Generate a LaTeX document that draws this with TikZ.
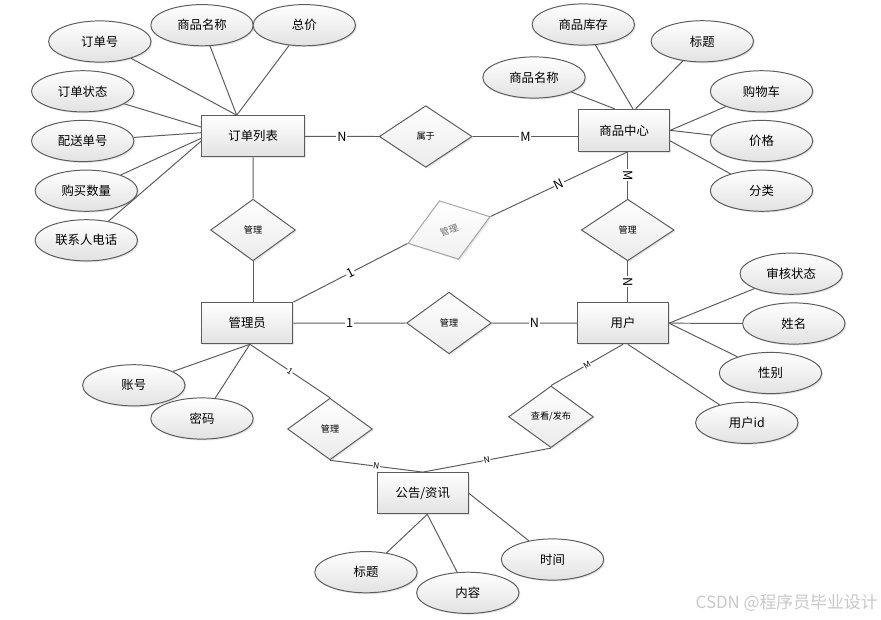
\documentclass[tikz,border=0pt]{standalone}
\usepackage{fontspec}
\setmainfont{Noto Sans CJK SC}
\usetikzlibrary{shapes.geometric,shadows}
\definecolor{EdgeGray}{RGB}{92,92,92}
\definecolor{FillLow}{RGB}{226,226,226}
\definecolor{FaintGray}{RGB}{165,165,165}
\definecolor{FaintText}{RGB}{110,110,110}
\definecolor{MarkGray}{RGB}{200,200,200}

\begin{document}
\begin{tikzpicture}[x=0.025cm, y=-0.025cm, every node/.style={font=\fontsize{8.8}{10}\selectfont, align=center}]
  \tikzset{
    entity/.style={draw=EdgeGray, line width=0.7pt, top color=white, bottom color=FillLow, minimum width=2.275cm, minimum height=1.03cm, inner sep=0pt, drop shadow={opacity=0.2, shadow xshift=1pt, shadow yshift=-1pt}},
    attr/.style={ellipse, draw=EdgeGray, line width=0.7pt, top color=white, bottom color=FillLow, minimum width=2.56cm, minimum height=1.03cm, inner sep=0pt, drop shadow={opacity=0.2, shadow xshift=1pt, shadow yshift=-1pt}},
    rel/.style={diamond, draw=EdgeGray, line width=0.7pt, top color=white, bottom color=FillLow!70!white, minimum width=2.12cm, minimum height=1.54cm, inner sep=0pt, font=\fontsize{6.5}{8}\selectfont, drop shadow={opacity=0.2, shadow xshift=1pt, shadow yshift=-1pt}},
    link/.style={draw=EdgeGray, line width=0.7pt},
    card/.style={fill=white, inner sep=0.6pt, font=\fontsize{9}{10}\selectfont},
    cardsm/.style={fill=white, inner sep=0.4pt, font=\fontsize{6}{7}\selectfont}
  }
  \useasboundingbox (0,0) rectangle (881,619);
  \node[entity, minimum width=2.56cm] (olist) at (253.2,136.3) {订单列表};
  \node[entity, minimum height=1.05cm] (goods) at (624.2,130.3) {商品中心};
  \node[entity] (admin) at (247.3,323.2) {管理员};
  \node[entity] (user) at (623,323.2) {用户};
  \node[entity] (notice) at (422.8,493.2) {公告/资讯};
  \node[rel, minimum width=2.32cm] (belong) at (425.7,136.5) {属于};
  \node[rel] (mgrA) at (253,230) {管理};
  \node[rel, draw=FaintGray, text=FaintText, bottom color=FillLow!50!white, minimum width=2.16cm, rotate=18] (mgrB) at (449,230) {管理};
  \node[rel, minimum width=2.32cm] (mgrC) at (627.7,230) {管理};
  \node[rel] (mgrD) at (449,323) {管理};
  \node[rel] (mgrE) at (330,429) {管理};
  \node[rel] (view) at (551,416.8) {查看/发布};
  \node[attr] (oNo) at (99.8,41.5) {订单号};
  \node[attr] (oName) at (202,25.2) {商品名称};
  \node[attr] (oTotal) at (304.3,25.2) {总价};
  \node[attr] (oState) at (82.7,91.3) {订单状态};
  \node[attr] (oShip) at (82.7,141) {配送单号};
  \node[attr] (oQty) at (86.3,190.7) {购买数量};
  \node[attr] (oPhone) at (86.3,240.3) {联系人电话};
  \node[attr] (gStock) at (583.3,24.5) {商品库存};
  \node[attr] (gTitle) at (702.3,41.3) {标题};
  \node[attr] (gName) at (534,77.5) {商品名称};
  \node[attr] (gCart) at (761.5,91.3) {购物车};
  \node[attr] (gPrice) at (761.5,141) {价格};
  \node[attr] (gCat) at (761.5,190.7) {分类};
  \node[attr] (uAudit) at (791.2,273.7) {审核状态};
  \node[attr] (uName) at (793.8,323.5) {姓名};
  \node[attr] (uSex) at (770.5,373) {性别};
  \node[attr] (uId) at (746.8,422.8) {用户id};
  \node[attr] (aAcc) at (133.8,385.3) {账号};
  \node[attr] (aPwd) at (202,418.5) {密码};
  \node[attr] (nTitle) at (366,572.2) {标题};
  \node[attr] (nBody) at (467.8,592.8) {内容};
  \node[attr] (nTime) at (552.5,559.5) {时间};
  \node[MarkGray, font=\fontsize{12}{14}\selectfont] (mark) at (786.7,603.3) {CSDN @程序员毕业设计};

  \draw[link] (olist.128) -- (oNo);
  \draw[link] (olist.128) -- (oName);
  \draw[link] (olist.128) -- (oTotal);
  \draw[link] (olist.170) -- (oState);
  \draw[link] (olist.176) -- (oShip);
  \draw[link] (olist.182) -- (oQty);
  \draw[link] (olist.185) -- (oPhone);
  \draw[link] (goods.114) -- (gName);
  \draw[link] (goods.68) -- (gStock);
  \draw[link] (goods.62) -- (gTitle);
  \draw[link] (goods.east) -- (gCart);
  \draw[link] (goods.east) -- (gPrice);
  \draw[link] (goods.-13) -- (gCat);
  \draw[link] (user.east) -- (uAudit);
  \draw[link] (user.east) -- (uName);
  \draw[link] (user.east) -- (uSex);
  \draw[link] (user.-77) -- (uId);
  \draw[link] (admin.-83) -- (aAcc);
  \draw[link] (admin.-83) -- (aPwd);
  \draw[link] (notice.-78) -- (nTitle);
  \draw[link] (notice.-78) -- (nBody);
  \draw[link] (notice.east) -- (nTime);

  \draw[link] (olist.east) -- node[card] {N} (belong.west);
  \draw[link] (belong.east) -- node[card] {M} (belong.east -| goods.west);
  \draw[link] (olist.south) -- (mgrA.north);
  \draw[link] (mgrA.south) -- (admin.north -| mgrA.south);
  \draw[link] (admin.north east) -- node[card, sloped] {1} (mgrB.west);
  \draw[link] (mgrB.east) -- node[card, sloped] {N} (goods.south -| mgrC.north);
  \draw[link] (goods.south -| mgrC.north) -- node[card, sloped] {M} (mgrC.north);
  \draw[link] (mgrC.south) -- node[card, sloped] {N} (mgrC.south |- user.north);
  \draw[link] (admin.east) -- node[card] {1} (mgrD.west);
  \draw[link] (mgrD.east) -- node[card] {N} (user.west);
  \draw[link] (admin.-83) -- node[cardsm, sloped] {1} (mgrE.north);
  \draw[link] (mgrE.south) -- node[cardsm, sloped] {N} (notice.north);
  \draw[link] (user.south) -- node[cardsm, sloped] {M} (view.north);
  \draw[link] (view.south) -- node[cardsm, sloped] {N} (notice.north);
\end{tikzpicture}
\end{document}
